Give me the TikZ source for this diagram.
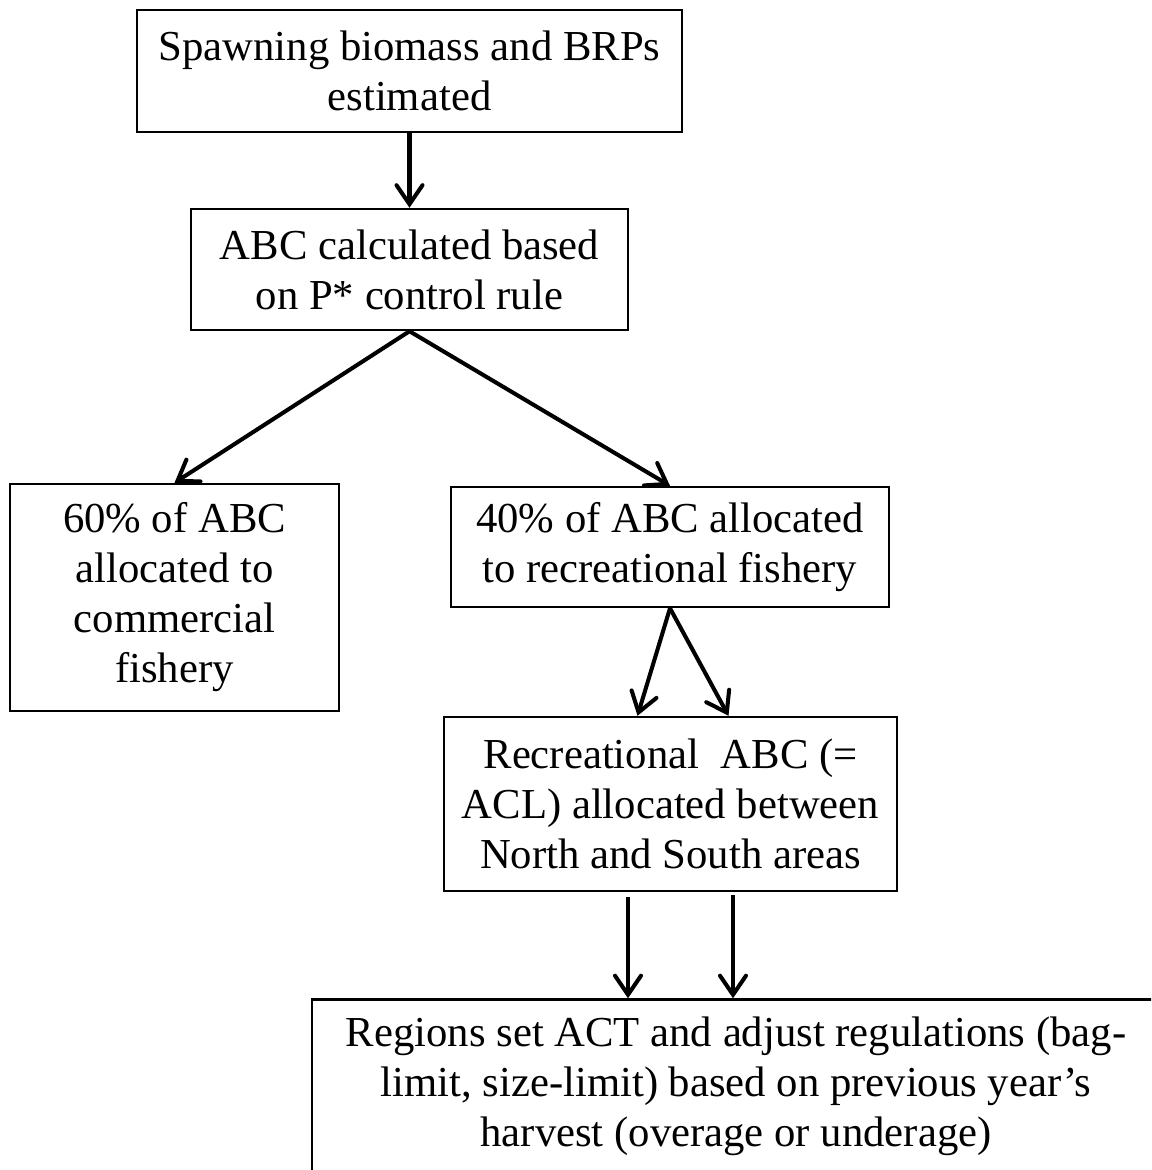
\documentclass[tikz,border=0pt]{standalone}
\usepackage{fontspec}
\setmainfont{Liberation Serif}
\usetikzlibrary{arrows.meta}
\tikzset{
box/.style={draw, line width=1.4pt, align=center, inner sep=0pt,
  font=\fontsize{24.3}{28.45}\selectfont},
flow/.style={line width=2.3pt, -{Straight Barb[length=0.38cm, width=0.52cm, line cap=round]}}
}

\begin{document}
\begin{tikzpicture}
\useasboundingbox (0,0) rectangle (23.02,-23.4);
\clip (0,0) rectangle (23.02,-23.4);
\node[box, minimum width=10.9cm, minimum height=2.44cm] (spawn) at (8.19,-1.42) {Spawning biomass and BRPs\\estimated};
\node[box, minimum width=8.74cm, minimum height=2.42cm] (abc) at (8.19,-5.39) {ABC calculated based\\on P* control rule};
\node[box, minimum width=6.58cm, minimum height=4.54cm] (comm) at (3.49,-11.95) {60\% of ABC\\allocated to\\commercial\\fishery};
\node[box, minimum width=8.76cm, minimum height=2.4cm] (rec) at (13.4,-10.94) {40\% of ABC allocated\\to recreational fishery};
\node[box, minimum width=9.06cm, minimum height=3.48cm] (acl) at (13.41,-16.08) {Recreational\ \ ABC (=\\ACL) allocated between\\North and South areas};
\node[box, minimum width=16.96cm, minimum height=3.46cm] (regions) at (14.72,-21.72) {Regions set ACT and adjust regulations (bag-\\limit, size-limit) based on previous year’s\\harvest (overage or underage)};
\draw[flow] (spawn.south) -- (abc.north);
\draw[flow] (abc.south) -- (comm.north);
\draw[flow] (abc.south) -- (rec.north);
\draw[flow] (rec.south) -- ([xshift=-0.66cm]acl.north);
\draw[flow] (rec.south) -- ([xshift=1.16cm]acl.north);
\coordinate (acl l) at ([xshift=-0.85cm,yshift=-0.1cm]acl.south);
\coordinate (acl r) at ([xshift=1.25cm,yshift=-0.06cm]acl.south);
\draw[flow] (acl l) -- (acl l |- regions.north);
\draw[flow] (acl r) -- (acl r |- regions.north);
\end{tikzpicture}
\end{document}
